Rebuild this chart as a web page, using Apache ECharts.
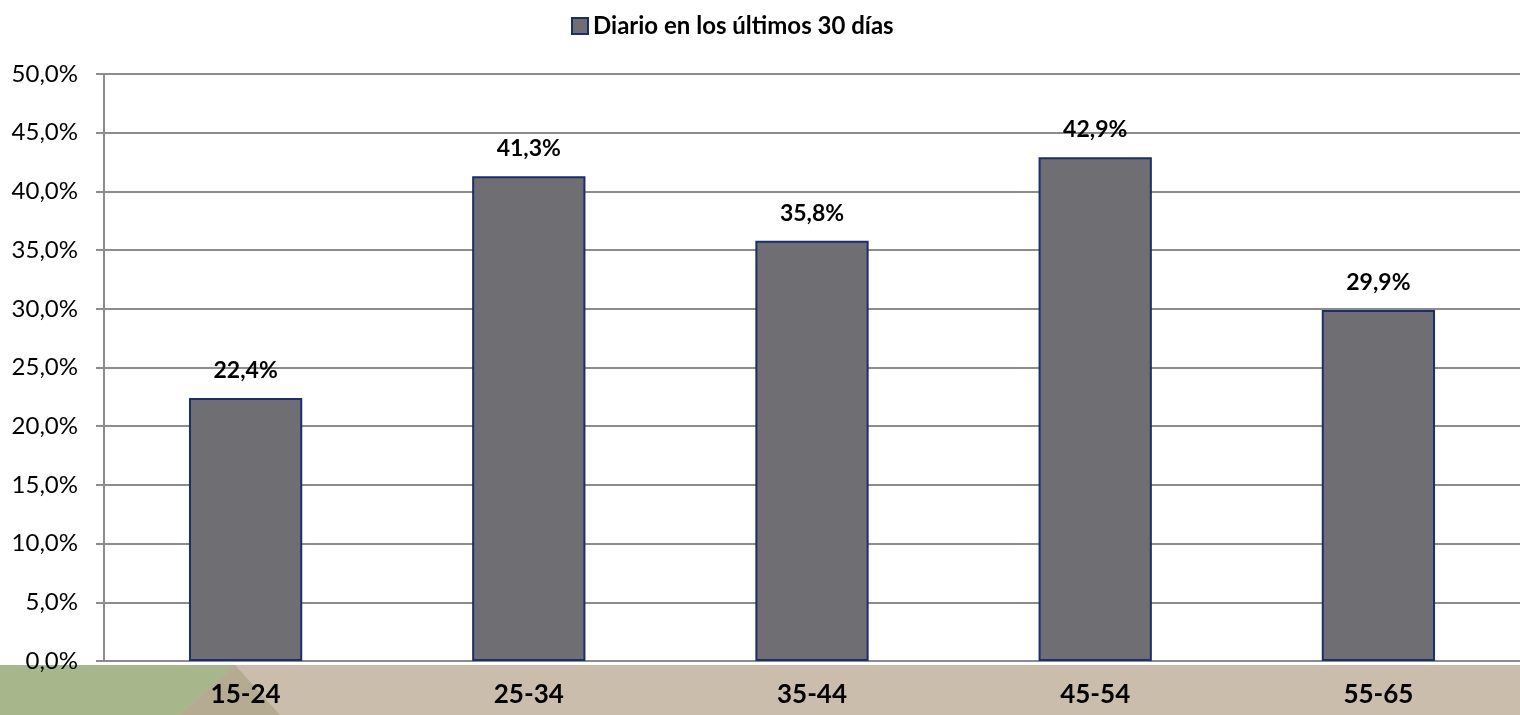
<!DOCTYPE html>
<html>
<head>
<meta charset="utf-8">
<script src="https://cdn.jsdelivr.net/npm/echarts@6/dist/echarts.min.js"></script>
<style>
  html, body { margin: 0; padding: 0; background: #ffffff; }
  #chart { width: 1520px; height: 715px; }
</style>
</head>
<body>
<div id="chart"></div>
<script>
var categories = ['15-24', '25-34', '35-44', '45-54', '55-65'];
var seriesName = 'Diario en los últimos 30 días';
var values = [22.4, 41.3, 35.8, 42.9, 29.9];

function pct(v) {
	return v.toFixed(1).replace('.', ',') + '%';
}

var chart = echarts.init(document.getElementById('chart'));

var option = {
	animation: false,
	textStyle: { fontFamily: 'Lato' },
	graphic: [
		{ type: 'rect', z: -10, shape: { x: 0, y: 665, width: 1520, height: 50 }, style: { fill: '#cabdab' } },
		{ type: 'polygon', z: -9, shape: { points: [[0, 665], [235, 665], [180, 715], [0, 715]] }, style: { fill: '#a7b68b' } },
		{ type: 'polygon', z: -9, shape: { points: [[235, 665], [180, 715], [280, 715]] }, style: { fill: '#b5ab92' } }
	],
	legend: {
		data: [{ name: seriesName, icon: 'rect' }],
		left: 566,
		top: 9,
		itemWidth: 16,
		itemHeight: 16,
		itemGap: 6,
		textStyle: { fontFamily: 'Lato', fontWeight: 'bold', fontSize: 24, color: '#000' }
	},
	grid: { left: 104, right: 0, top: 74, bottom: 54 },
	xAxis: {
		type: 'category',
		data: categories,
		axisLine: { lineStyle: { color: '#8c8c8c', width: 2 } },
		axisTick: { length: 9, lineStyle: { color: '#8c8c8c', width: 2 } },
		axisLabel: { fontFamily: 'Lato', fontWeight: 'bold', fontSize: 26, color: '#000', margin: 21 }
	},
	yAxis: {
		type: 'value',
		min: 0,
		max: 50,
		interval: 5,
		axisLine: { show: true, lineStyle: { color: '#8c8c8c', width: 2 } },
		axisTick: { show: true, length: 8, lineStyle: { color: '#8c8c8c', width: 2 } },
		splitLine: { lineStyle: { color: '#8c8c8c', width: 2 } },
		axisLabel: {
			fontFamily: 'Lato', fontSize: 24, color: '#000', margin: 26,
			formatter: function (v) { return pct(v); }
		}
	},
	series: [
		{
			name: seriesName,
			type: 'bar',
			data: values,
			barWidth: '40%',
			itemStyle: { color: '#6f6e73', borderColor: '#1c2e6b', borderWidth: 2 },
			label: {
				show: true,
				position: 'top',
				distance: 16,
				fontFamily: 'Lato',
				fontWeight: 'bold',
				fontSize: 23,
				color: '#000',
				formatter: function (p) { return pct(p.value); }
			}
		}
	]
};

chart.setOption(option);
</script>
</body>
</html>
